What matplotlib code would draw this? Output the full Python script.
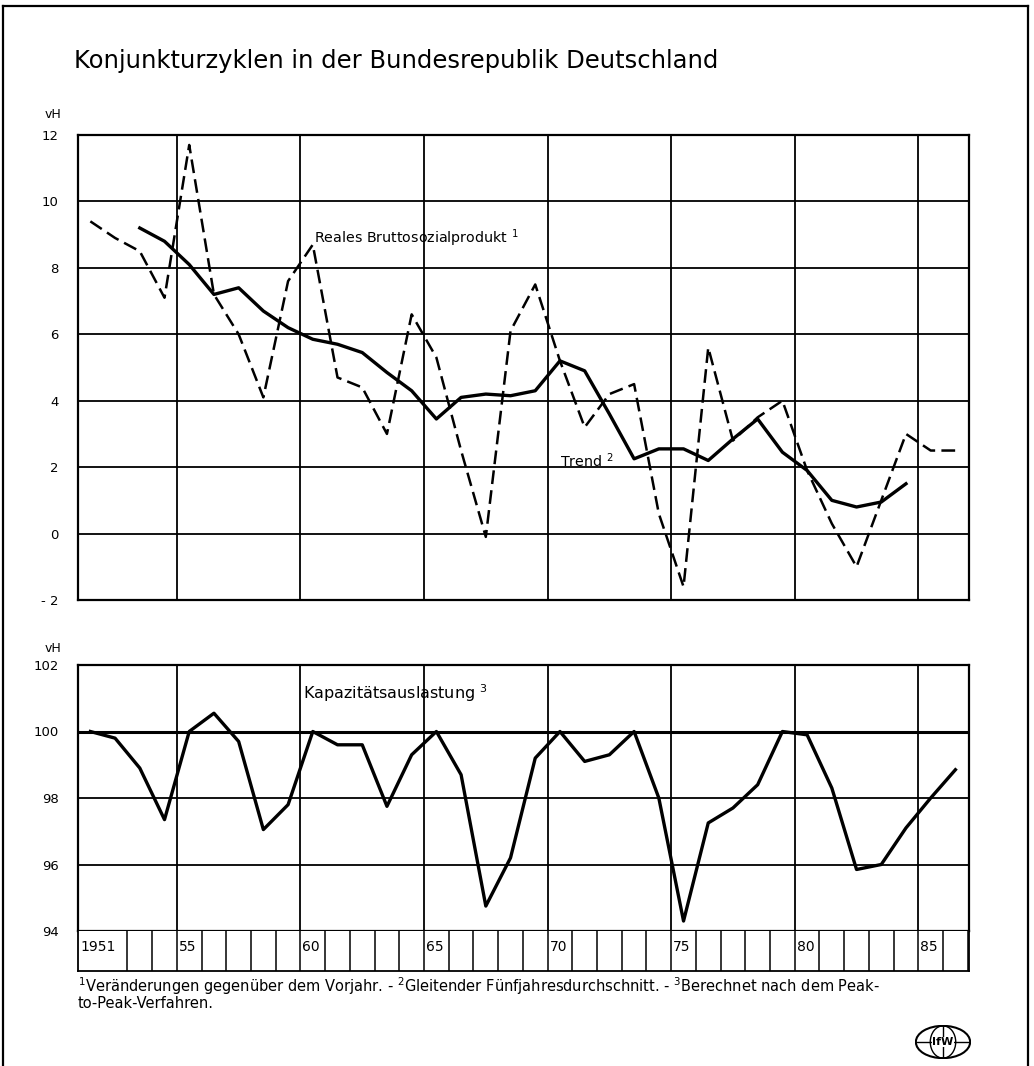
import matplotlib.pyplot as plt
import numpy as np
from matplotlib.patches import Ellipse
from matplotlib.lines import Line2D

# ---------------- data ----------------
years_bsp = np.arange(1951, 1987)
bsp = [9.4, 8.9, 8.5, 7.1, 11.7, 7.2, 6.0, 4.1, 7.6, 8.7,
       4.7, 4.4, 3.0, 6.6, 5.3, 2.5, -0.1, 6.1, 7.5, 5.2,
       3.2, 4.2, 4.5, 0.6, -1.6, 5.6, 2.8, 3.5, 4.0, 1.9,
       0.3, -1.0, 1.0, 3.0, 2.5, 2.5]

years_trend = np.arange(1953, 1985)
trend = [9.2, 8.8, 8.1, 7.2, 7.4, 6.7, 6.2, 5.85, 5.7, 5.45,
         4.85, 4.3, 3.45, 4.1, 4.2, 4.15, 4.3, 5.2, 4.9, 3.6,
         2.25, 2.55, 2.55, 2.2, 2.85, 3.45, 2.45, 1.9, 1.0, 0.8,
         0.95, 1.5]

years_kap = np.arange(1951, 1987)
kap = [100.0, 99.8, 98.9, 97.35, 100.0, 100.55, 99.7, 97.05, 97.8, 100.0,
       99.6, 99.6, 97.75, 99.3, 100.0, 98.7, 94.75, 96.2, 99.2, 100.0,
       99.1, 99.3, 100.0, 98.0, 94.3, 97.25, 97.7, 98.4, 100.0, 99.9,
       98.3, 95.85, 96.0, 97.1, 98.0, 98.85]

top_ticks = [12, 10, 8, 6, 4, 2, 0, -2]
top_labels = ["12", "10", "8", "6", "4", "2", "0", "- 2"]
bot_ticks = [102, 100, 98, 96, 94]
bot_labels = ["102", "100", "98", "96", "94"]
grid_years = [1955, 1960, 1965, 1970, 1975, 1980, 1985]
year_labels = {1951: "1951", 1955: "55", 1960: "60", 1965: "65",
               1970: "70", 1975: "75", 1980: "80", 1985: "85"}

x0, x1 = 1951, 1987.05
W, H = 1034, 1066

fig = plt.figure(figsize=(W / 100, H / 100), dpi=100)
fig.patch.set_facecolor("white")


def fr(left, top, right, bottom):
    return [left / W, 1 - bottom / H, (right - left) / W, (bottom - top) / H]


def style(ax, ticks, labels, ylim):
    ax.set_xlim(x0, x1)
    ax.set_ylim(*ylim)
    ax.set_yticks(ticks)
    ax.set_yticklabels(labels)
    ax.set_xticks([])
    ax.tick_params(axis="y", length=0, pad=14, labelsize=9.5)
    for s in ax.spines.values():
        s.set_linewidth(1.6)
    for yy in ticks:
        ax.axhline(yy, color="black", lw=1.3, zorder=1)
    for xx in grid_years:
        ax.axvline(xx, color="black", lw=1.3, zorder=1)


# ---------------- top panel ----------------
ax1 = fig.add_axes(fr(78, 135, 969, 600))
style(ax1, top_ticks, top_labels, (-2, 12))
ax1.plot(years_bsp + 0.5, bsp, color="black", lw=1.8, dashes=[5.5, 2.5], zorder=3)
ax1.plot(years_trend + 0.5, trend, color="black", lw=2.4, zorder=3)
ax1.text(1960.55, 8.9, r"Reales Bruttosozialprodukt $^{1}$", fontsize=10.3, va="center")
ax1.text(1970.5, 2.2, r"Trend $^{2}$", fontsize=10.3, va="center")
fig.text(45 / W, 1 - 115 / H, "vH", fontsize=9, va="center")

# ---------------- bottom panel ----------------
ax2 = fig.add_axes(fr(78, 665, 969, 931))
style(ax2, bot_ticks, bot_labels, (94, 102))
ax2.axhline(100, color="black", lw=2.2, zorder=2)
ax2.plot(years_kap + 0.5, kap, color="black", lw=2.4, zorder=3)
ax2.text(1960.1, 101.15, r"Kapazitätsauslastung $^{3}$", fontsize=11.5, va="center")
fig.text(45 / W, 1 - 648 / H, "vH", fontsize=9, va="center")

# ---------------- year strip ----------------
ax3 = fig.add_axes(fr(78, 931, 969, 971))
ax3.set_xlim(x0, x1)
ax3.set_ylim(0, 1)
ax3.set_xticks([])
ax3.set_yticks([])
for s in ax3.spines.values():
    s.set_linewidth(1.3)
ax3.spines["top"].set_visible(False)
for yr in range(1953, 1988):
    ax3.axvline(yr, color="black", lw=1.1)
for yr, lab in year_labels.items():
    ax3.text(yr + 0.08, 0.6, lab, fontsize=10, va="center", ha="left")

# ---------------- title, footnote, frame, logo ----------------
fig.text(74 / W, 1 - 68 / H, "Konjunkturzyklen in der Bundesrepublik Deutschland",
         fontsize=17.5, va="baseline")
fig.text(78 / W, 1 - 992 / H,
         r"$^{1}$Veränderungen gegenüber dem Vorjahr. - $^{2}$Gleitender "
         r"Fünfjahresdurchschnitt. - $^{3}$Berechnet nach dem Peak-",
         fontsize=10.5, va="baseline")
fig.text(78 / W, 1 - 1008 / H, "to-Peak-Verfahren.", fontsize=10.5, va="baseline")

for xs, ys in [((3, 3), (6, 1070)), ((3, 1028), (6, 6)), ((1028, 1028), (6, 1070))]:
    fig.add_artist(Line2D([x / W for x in xs], [1 - y / H for y in ys],
                          color="black", lw=1.6))

axl = fig.add_axes(fr(915, 1025, 971, 1059))
axl.set_xlim(-1.65, 1.65)
axl.set_ylim(-1, 1)
axl.axis("off")
axl.add_patch(Ellipse((0, 0), 3.2, 1.9, fill=False, lw=1.5, color="black"))
axl.add_patch(Ellipse((0, 0), 1.5, 1.9, fill=False, lw=1.0, color="black"))
axl.plot([-1.6, 1.6], [0, 0], color="black", lw=1.0)
axl.plot([0, 0], [-0.95, 0.95], color="black", lw=1.0)
axl.text(0, 0, "IfW", fontsize=8, fontweight="bold", ha="center", va="center",
         bbox=dict(facecolor="white", edgecolor="none", pad=0.3))

fig.savefig("out.png", dpi=100)
